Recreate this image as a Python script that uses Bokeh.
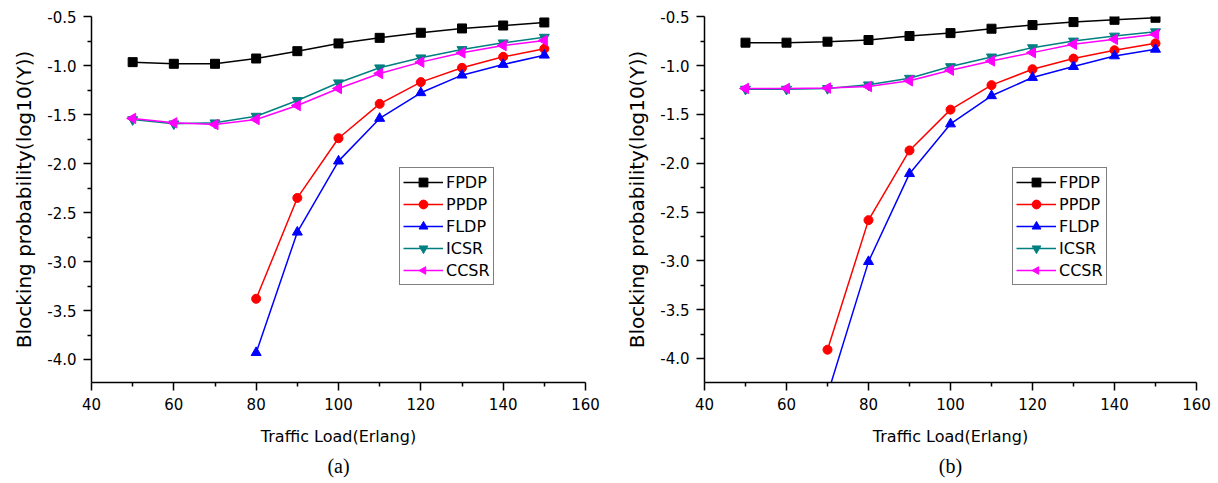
import math
from bokeh.plotting import figure
from bokeh.layouts import row
from bokeh.models import Range1d, FixedTicker, Title, ColumnDataSource
from bokeh.embed import file_html
from bokeh.resources import INLINE

# ---------------- data ----------------
loads = [50, 60, 70, 80, 90, 100, 110, 120, 130, 140, 150]

# panel (a)
a_fpdp = [-0.963, -0.98, -0.98, -0.926, -0.851, -0.772, -0.715, -0.663, -0.619, -0.589, -0.558]
a_ppdp_x = [80, 90, 100, 110, 120, 130, 140, 150]
a_ppdp = [-3.38, -2.35, -1.74, -1.389, -1.167, -1.021, -0.909, -0.827]
a_fldp_x = [80, 90, 100, 110, 120, 130, 140, 150]
a_fldp = [-3.93, -2.70, -1.974, -1.538, -1.276, -1.096, -0.987, -0.892]
a_icsr = [-1.55, -1.593, -1.583, -1.515, -1.355, -1.174, -1.021, -0.919, -0.834, -0.766, -0.708]
a_ccsr = [-1.538, -1.583, -1.60, -1.549, -1.406, -1.232, -1.079, -0.963, -0.868, -0.793, -0.742]

# panel (b)
b_fpdp = [-0.765, -0.765, -0.755, -0.738, -0.697, -0.667, -0.622, -0.585, -0.554, -0.531, -0.51]
b_ppdp_x = [70, 80, 90, 100, 110, 120, 130, 140, 150]
b_ppdp = [-3.91, -2.583, -1.869, -1.451, -1.20, -1.037, -0.928, -0.843, -0.772]
b_fldp_x = [70, 80, 90, 100, 110, 120, 130, 140, 150]
b_fldp = [-4.37, -3.008, -2.107, -1.598, -1.309, -1.122, -1.01, -0.901, -0.833]
b_icsr = [-1.241, -1.241, -1.234, -1.197, -1.129, -1.01, -0.911, -0.816, -0.748, -0.697, -0.653]
b_ccsr = [-1.234, -1.234, -1.23, -1.214, -1.156, -1.047, -0.952, -0.867, -0.782, -0.731, -0.68]

x_ticks = [40, 60, 80, 100, 120, 140, 160]
x_minor = [50, 70, 90, 110, 130, 150]
y_ticks = [-4.0, -3.5, -3.0, -2.5, -2.0, -1.5, -1.0, -0.5]
y_tick_labels = ["-4.0", "-3.5", "-3.0", "-2.5", "-2.0", "-1.5", "-1.0", "-0.5"]
y_minor = [-3.75, -3.25, -2.75, -2.25, -1.75, -1.25, -0.75]

series_names = ["FPDP", "PPDP", "FLDP", "ICSR", "CCSR"]
colors = ["#000000", "#ff0000", "#0000ff", "#008080", "#ff00ff"]

FONT = "DejaVu Sans"


def make_panel(caption, border_left, border_right, y_bottom, data):
    p = figure(width=609, height=483, output_backend="svg", toolbar_location=None,
               x_range=Range1d(40, 160), y_range=Range1d(y_bottom, -0.497),
               min_border_left=border_left, min_border_right=border_right,
               min_border_top=16, min_border_bottom=101)
    p.outline_line_color = None
    p.xgrid.visible = False
    p.ygrid.visible = False
    p.background_fill_color = "white"
    p.border_fill_color = "white"

    for ax in (p.xaxis[0], p.yaxis[0]):
        ax.axis_line_width = 1.5
        ax.axis_line_color = "black"
        ax.major_tick_line_width = 1.5
        ax.minor_tick_line_width = 1.5
        ax.major_tick_in = 0
        ax.major_tick_out = 8
        ax.minor_tick_in = 0
        ax.minor_tick_out = 4
        ax.major_label_text_font = FONT
        ax.major_label_text_font_size = "15px"
        ax.major_label_text_color = "black"
        ax.major_label_standoff = 7
        ax.axis_label_text_font = FONT
        ax.axis_label_text_font_style = "normal"
        ax.axis_label_text_color = "black"

    p.xaxis[0].ticker = FixedTicker(ticks=x_ticks, minor_ticks=x_minor)
    p.yaxis[0].ticker = FixedTicker(ticks=y_ticks, minor_ticks=y_minor)
    p.yaxis[0].major_label_overrides = {t: l for t, l in zip(y_ticks, y_tick_labels)}
    p.xaxis[0].axis_label = "Traffic Load(Erlang)"
    p.xaxis[0].axis_label_text_font_size = "16px"
    p.xaxis[0].axis_label_standoff = 14
    p.yaxis[0].axis_label = "Blocking probability(log10(Y))"
    p.yaxis[0].axis_label_text_font_size = "20px"
    p.yaxis[0].axis_label_standoff = 8

    markers = [("square", 9), ("circle", 9), ("triangle", 10),
               ("inverted_triangle", 10), ("left", 10)]
    for name, color, (mk, sz), (xs, ys) in zip(series_names, colors, markers, data):
        src = ColumnDataSource(dict(x=list(xs), y=list(ys)))
        p.line("x", "y", source=src, line_color=color, line_width=1.5, legend_label=name)
        if mk == "left":
            p.ngon("x", "y", source=src, radius=6, radius_units="screen", n=3,
                   angle=math.pi / 2, fill_color=color, line_color=color, legend_label=name)
        else:
            p.scatter("x", "y", source=src, marker=mk, size=sz,
                      fill_color=color, line_color=color, legend_label=name)

    lg = p.legend[0]
    lg.location = (308, 97)
    lg.border_line_color = "black"
    lg.border_line_width = 1.5
    lg.background_fill_color = "white"
    lg.background_fill_alpha = 1.0
    lg.label_text_font = FONT
    lg.label_text_font_size = "16px"
    lg.label_text_color = "black"
    lg.glyph_width = 40
    lg.glyph_height = 22
    lg.label_height = 22
    lg.label_standoff = 3
    lg.spacing = 0
    lg.padding = 3
    lg.margin = 0

    p.add_layout(Title(text=caption, align="center", text_font="Liberation Serif",
                       text_font_size="20px", text_font_style="normal",
                       text_color="black", standoff=9), "below")
    return p


data_a = [(loads, a_fpdp), (a_ppdp_x, a_ppdp), (a_fldp_x, a_fldp), (loads, a_icsr), (loads, a_ccsr)]
data_b = [(loads, b_fpdp), (b_ppdp_x, b_ppdp), (b_fldp_x, b_fldp), (loads, b_icsr), (loads, b_ccsr)]

pa = make_panel("(a)", 91, 24, -4.235, data_a)
pb = make_panel("(b)", 95, 22, -4.246, data_b)

layout = row(pa, pb)
open("out.html", "w").write(file_html(layout, INLINE))
